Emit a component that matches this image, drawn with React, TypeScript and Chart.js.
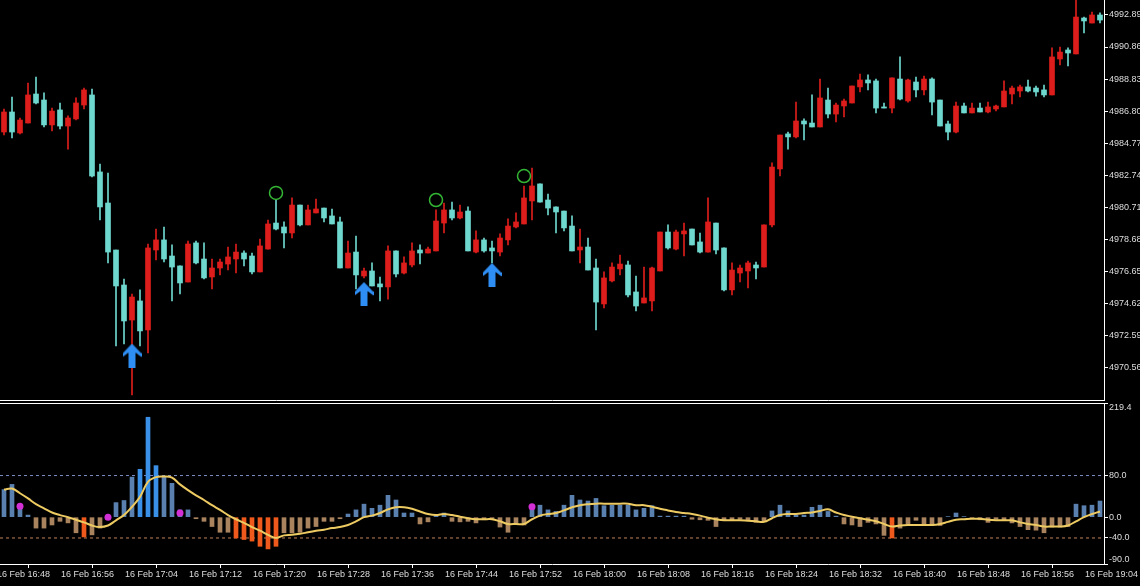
import React, { useEffect, useRef } from 'react';
import { Chart, registerables } from 'chart.js';

Chart.register(...registerables);

const FONT = "'Liberation Sans', Arial, sans-serif";
const TEXT = '#dedede';
const UP = '#dd1d1b';
const DOWN = '#6fd8ce';

// one bar per minute, bar n = 16:48 + n minutes
const openP = [
  4985.47, 4986.74, 4985.41, 4986.04, 4987.88, 4987.50, 4985.92, 4986.87, 4985.85, 4986.30,
  4987.18, 4987.82, 4982.94, 4980.97, 4977.99, 4975.77, 4973.55, 4974.76, 4972.92, 4977.99,
  4978.63, 4977.61, 4976.98, 4975.96, 4978.44, 4977.42, 4976.28, 4976.85, 4977.10, 4977.42,
  4977.80, 4977.61, 4976.60, 4978.05, 4979.70, 4979.45, 4979.07, 4980.84, 4979.58, 4980.34,
  4980.65, 4980.15, 4979.77, 4976.85, 4977.86, 4976.34, 4976.66, 4975.84, 4975.65, 4977.93,
  4976.53, 4977.04, 4977.99, 4977.80, 4977.93, 4979.70, 4980.53, 4980.02, 4980.46, 4977.86,
  4978.63, 4978.12, 4977.86, 4978.63, 4979.45, 4979.64, 4981.10, 4982.18, 4981.16, 4980.72,
  4980.46, 4979.51, 4977.99, 4978.18, 4976.85, 4974.57, 4976.03, 4976.79, 4977.04, 4975.33,
  4974.63, 4974.76, 4976.66, 4979.13, 4978.05, 4979.01, 4979.32, 4978.50, 4977.86, 4979.70,
  4978.12, 4975.46, 4976.53, 4976.66, 4977.04, 4976.91, 4979.58, 4983.13, 4985.35, 4985.16,
  4986.17, 4986.04, 4985.79, 4987.50, 4986.61, 4987.12, 4987.31, 4988.33, 4988.77, 4988.71,
  4987.06, 4986.99, 4988.83, 4987.44, 4988.64, 4988.14, 4988.83, 4987.50, 4985.98, 4985.47,
  4987.12, 4986.68, 4986.99, 4986.74, 4986.93, 4987.06, 4987.88, 4988.07, 4988.33, 4988.26,
  4988.14, 4987.82, 4990.10, 4990.67, 4990.42, 4992.70, 4992.38, 4992.89,
];
const highP = [
  4986.93, 4987.69, 4986.36, 4988.58, 4988.96, 4987.95, 4986.99, 4987.31, 4986.49, 4987.63,
  4988.26, 4988.20, 4983.44, 4982.87, 4977.99, 4976.15, 4975.20, 4975.46, 4978.37, 4979.32,
  4979.45, 4978.31, 4976.98, 4978.56, 4978.56, 4978.44, 4977.42, 4977.42, 4978.18, 4978.37,
  4977.93, 4977.80, 4978.69, 4979.89, 4981.16, 4979.77, 4981.29, 4980.84, 4980.84, 4981.22,
  4980.65, 4980.59, 4980.08, 4978.56, 4978.88, 4976.85, 4977.17, 4976.28, 4978.25, 4977.93,
  4977.55, 4978.44, 4978.31, 4978.18, 4980.53, 4980.97, 4981.03, 4980.84, 4980.72, 4979.20,
  4978.75, 4978.56, 4979.01, 4979.96, 4980.34, 4982.05, 4983.19, 4982.18, 4981.54, 4980.72,
  4980.46, 4980.15, 4979.32, 4978.75, 4977.42, 4976.60, 4977.17, 4977.67, 4977.29, 4976.34,
  4976.91, 4976.91, 4979.13, 4979.58, 4979.26, 4979.70, 4979.32, 4979.07, 4981.29, 4979.70,
  4978.12, 4977.17, 4977.04, 4977.29, 4977.23, 4979.58, 4983.51, 4985.28, 4985.47, 4987.37,
  4986.30, 4987.82, 4988.83, 4988.26, 4987.31, 4987.56, 4988.39, 4989.15, 4989.09, 4988.83,
  4987.31, 4988.90, 4990.23, 4988.83, 4988.96, 4989.02, 4988.90, 4987.50, 4986.17, 4987.37,
  4987.31, 4987.31, 4987.31, 4987.37, 4987.18, 4988.71, 4988.39, 4988.45, 4988.77, 4988.39,
  4988.45, 4990.80, 4990.86, 4990.80, 4993.84, 4992.76, 4993.08, 4993.02,
];
const lowP = [
  4985.28, 4985.09, 4985.35, 4986.04, 4987.25, 4985.79, 4985.54, 4985.66, 4984.39, 4986.23,
  4986.93, 4982.62, 4979.89, 4977.17, 4971.91, 4972.03, 4968.80, 4971.91, 4971.46, 4977.36,
  4977.23, 4974.76, 4975.20, 4975.96, 4977.10, 4976.15, 4975.52, 4976.41, 4976.72, 4976.53,
  4976.98, 4976.47, 4976.60, 4978.05, 4979.26, 4978.12, 4978.75, 4979.51, 4979.58, 4980.34,
  4979.77, 4979.64, 4976.85, 4976.85, 4975.52, 4976.22, 4975.71, 4974.76, 4974.88, 4976.28,
  4976.47, 4976.91, 4977.10, 4977.80, 4977.93, 4979.07, 4979.89, 4979.96, 4977.93, 4977.80,
  4977.86, 4977.17, 4977.61, 4978.31, 4979.39, 4979.64, 4979.89, 4981.03, 4980.21, 4979.07,
  4979.20, 4977.93, 4977.17, 4976.72, 4972.92, 4974.31, 4975.96, 4976.41, 4975.01, 4974.12,
  4974.63, 4974.12, 4976.66, 4978.05, 4977.99, 4977.61, 4978.31, 4977.80, 4977.86, 4977.74,
  4975.39, 4975.14, 4975.96, 4975.58, 4976.15, 4976.91, 4979.45, 4982.68, 4984.39, 4985.09,
  4984.97, 4985.79, 4985.79, 4986.36, 4986.11, 4986.42, 4987.31, 4988.01, 4988.14, 4986.68,
  4986.99, 4986.68, 4987.50, 4987.37, 4987.69, 4987.82, 4986.55, 4985.85, 4984.97, 4985.41,
  4986.68, 4986.68, 4986.74, 4986.68, 4986.80, 4987.06, 4987.25, 4987.69, 4988.01, 4987.75,
  4987.69, 4987.82, 4989.72, 4989.66, 4990.42, 4991.75, 4992.38, 4992.38,
];
const closeP = [
  4986.74, 4985.47, 4986.23, 4987.82, 4987.31, 4985.92, 4986.80, 4985.85, 4986.36, 4987.31,
  4988.14, 4982.68, 4980.72, 4977.86, 4975.71, 4973.49, 4975.01, 4972.86, 4978.12, 4978.63,
  4977.42, 4976.91, 4975.90, 4978.37, 4977.17, 4976.22, 4976.85, 4977.23, 4977.55, 4977.86,
  4977.42, 4976.60, 4978.25, 4979.64, 4979.32, 4979.07, 4980.84, 4979.58, 4980.53, 4980.59,
  4980.02, 4979.64, 4976.85, 4977.80, 4976.41, 4976.66, 4975.71, 4975.65, 4977.93, 4976.47,
  4977.17, 4977.93, 4977.80, 4978.05, 4979.83, 4980.53, 4980.02, 4980.40, 4977.93, 4978.63,
  4977.93, 4977.93, 4978.75, 4979.51, 4979.77, 4981.29, 4982.05, 4981.03, 4980.65, 4980.40,
  4979.39, 4977.93, 4978.18, 4976.72, 4974.69, 4976.22, 4976.91, 4977.10, 4975.14, 4974.44,
  4974.95, 4976.85, 4979.13, 4978.12, 4979.13, 4979.20, 4978.31, 4977.86, 4979.77, 4977.99,
  4975.46, 4976.72, 4976.85, 4977.17, 4976.85, 4979.58, 4983.25, 4985.28, 4985.16, 4986.17,
  4985.98, 4985.79, 4987.63, 4986.61, 4987.18, 4987.44, 4988.39, 4988.77, 4988.58, 4986.99,
  4986.99, 4988.90, 4987.56, 4988.77, 4988.14, 4988.83, 4987.37, 4985.85, 4985.47, 4987.12,
  4986.68, 4986.99, 4986.74, 4987.06, 4987.12, 4988.07, 4988.26, 4988.33, 4988.07, 4988.01,
  4987.82, 4990.23, 4990.54, 4990.48, 4992.76, 4992.51, 4992.89, 4992.57,
];

// oscillator histogram and its signal line
const histVals = [
  53, 63, 21, 4, -21, -21, -15, -8, -11, -30,
  -38, -34, -21, -1, 28, 32, 77, 92, 192, 99,
  77, 65, 14, 14, -3, -8, -18, -29, -29, -40,
  -43, -46, -56, -61, -56, -30, -30, -29, -21, -18,
  -8, -8, -3, 6, 14, 25, 17, 23, 42, 33,
  8, 8, -13, -9, 4, 8, -8, -9, -8, -11,
  -5, -4, -19, -29, -13, -15, 17, 23, 14, 11,
  23, 42, 33, 31, 36, 22, 23, 23, 23, 14,
  17, 22, 2, 2, 2, 2, -4, -5, -6, -18,
  -6, -5, -4, -6, -10, -8, 12, 23, 12, 4,
  4, 19, 23, 11, 2, -13, -15, -18, -10, -13,
  -35, -40, -21, -13, -6, -13, -16, -16, 1, 8,
  1, -1, -5, -10, -4, -6, -11, -18, -24, -25,
  -30, -19, -19, -18, 25, 22, 23, 31,
];
const signalVals = [
  53, 55, 46, 36, 25, 17, 9, 4, 0, -5,
  -10, -16, -19, -16, -6, 4, 20, 39, 68, 77,
  78, 76, 63, 52, 42, 33, 23, 14, 4, -4,
  -11, -19, -26, -34, -40, -35, -34, -32, -29, -26,
  -24, -21, -19, -15, -8, 0, 3, 8, 15, 19,
  19, 16, 11, 6, 4, 6, 4, 1, -2, -4,
  -4, -4, -8, -13, -13, -13, -4, 3, 6, 8,
  13, 19, 23, 25, 26, 26, 26, 26, 26, 23,
  23, 20, 16, 13, 10, 8, 6, 3, -1, -4,
  -6, -6, -6, -7, -8, -9, -2, 4, 6, 6,
  8, 9, 12, 15, 9, 4, 1, -2, -5, -8,
  -13, -18, -16, -15, -15, -15, -15, -13, -9, -5,
  -4, -3, -3, -5, -6, -6, -6, -10, -13, -15,
  -18, -18, -18, -16, -8, 0, 6, 11,
];
const strongBars = [11, 18, 19, 20, 30, 31, 32, 33, 34, 35, 112];

// signal markers
const arrowMinutes = [17, 46, 62];
const arrowPrices = [4971.3, 4975.2, 4976.41];
const circleMinutes = [35, 55, 66];
const circlePrices = [4981.61, 4981.16, 4982.68];
const dotMinutes = [3, 14, 23, 67];
const dotValues = [21, 0, 8, 20];

// levels and axes
const levels = [80, -40];
const priceTicks = [4970.56, 4972.59, 4974.62, 4976.65, 4978.68, 4980.71, 4982.74, 4984.77, 4986.8, 4988.83, 4990.86, 4992.89];
const priceMin = 4968.48;
const priceMax = 4993.84;
const indTicks = [-90, -40, 0, 80, 219.4];
const tickMinutes = [0, 8, 16, 24, 32, 40, 48, 56, 64, 72, 80, 88, 96, 104, 112, 120, 128, 136];
const timeLabels = [
  '16 Feb 16:48', '16 Feb 16:56', '16 Feb 17:04', '16 Feb 17:12', '16 Feb 17:20', '16 Feb 17:28',
  '16 Feb 17:36', '16 Feb 17:44', '16 Feb 17:52', '16 Feb 18:00', '16 Feb 18:08', '16 Feb 18:16',
  '16 Feb 18:24', '16 Feb 18:32', '16 Feb 18:40', '16 Feb 18:48', '16 Feb 18:56', '16 Feb 19:04',
];

function makeArrow(): HTMLCanvasElement {
  const c = document.createElement('canvas');
  c.width = 19;
  c.height = 24;
  const g = c.getContext('2d')!;
  g.fillStyle = '#2f8ef3';
  g.beginPath();
  g.moveTo(9.5, 0);
  g.lineTo(19, 10);
  g.lineTo(19, 13.5);
  g.lineTo(13, 9);
  g.lineTo(13, 24);
  g.lineTo(6, 24);
  g.lineTo(6, 9);
  g.lineTo(0, 13.5);
  g.lineTo(0, 10);
  g.closePath();
  g.fill();
  return c;
}

const font = { family: FONT, size: 9 };

function noPad(s: any) {
  s.paddingTop = 0;
  s.paddingBottom = 0;
  s.paddingLeft = 0;
  s.paddingRight = 0;
}

export default function App() {
  const mainRef = useRef<HTMLCanvasElement>(null);
  const indRef = useRef<HTMLCanvasElement>(null);

  useEffect(() => {
    document.body.style.margin = '0';
    document.body.style.background = '#000';
    const arrow = makeArrow();
    const candleColors = openP.map((o, i) => (closeP[i] > o ? UP : DOWN));
    const xMin = 0.5;
    const xMax = 138.5;

    const main = new Chart(mainRef.current!, {
      type: 'bar',
      data: {
        datasets: [
          {
            type: 'scatter',
            data: arrowMinutes.map((m, i) => ({ x: m, y: arrowPrices[i] })),
            pointStyle: arrow as any,
            pointRadius: 10,
            order: 0,
          } as any,
          {
            type: 'scatter',
            data: circleMinutes.map((m, i) => ({ x: m, y: circlePrices[i] })),
            pointStyle: 'circle',
            pointRadius: 6.5,
            borderColor: '#34b534',
            borderWidth: 1.5,
            backgroundColor: 'rgba(0,0,0,0)',
            order: 0,
          } as any,
          {
            type: 'bar',
            data: openP.map((o, i) => ({ x: i + 1, y: [o, closeP[i]] })),
            backgroundColor: candleColors,
            borderWidth: 0,
            grouped: false,
            categoryPercentage: 1,
            barPercentage: 1,
            maxBarThickness: 5,
            minBarLength: 1,
            order: 1,
          } as any,
          {
            type: 'bar',
            data: lowP.map((l, i) => ({ x: i + 1, y: [l, highP[i]] })),
            backgroundColor: candleColors,
            borderWidth: 0,
            grouped: false,
            categoryPercentage: 1,
            barPercentage: 1,
            maxBarThickness: 1,
            order: 2,
          } as any,
        ],
      },
      options: {
        responsive: false,
        maintainAspectRatio: false,
        animation: false,
        devicePixelRatio: 1,
        events: [],
        layout: { autoPadding: false, padding: 0 } as any,
        plugins: { legend: { display: false }, tooltip: { enabled: false } },
        scales: {
          x: {
            type: 'linear',
            min: xMin,
            max: xMax,
            offset: false,
            ticks: { display: false },
            grid: { display: false, drawTicks: false },
            border: { display: true, color: '#ffffff', width: 1 },
            afterFit: (s: any) => { s.height = 1; noPad(s); },
          },
          y: {
            type: 'linear',
            position: 'right',
            min: priceMin,
            max: priceMax,
            afterBuildTicks: (s: any) => { s.ticks = priceTicks.map((v) => ({ value: v })); },
            afterFit: (s: any) => { s.width = 36; noPad(s); },
            grid: { drawOnChartArea: false, drawTicks: true, tickLength: 4, tickColor: '#ffffff' },
            border: { display: true, color: '#ffffff', width: 1 },
            ticks: { color: TEXT, font, padding: 1, callback: (v: any) => Number(v).toFixed(2) },
          },
        } as any,
      },
    });

    const edgePlugin = {
      id: 'edges',
      afterDraw(chart: any) {
        const { ctx, chartArea } = chart;
        const s = chart.scales.y;
        ctx.save();
        ctx.strokeStyle = '#ffffff';
        ctx.lineWidth = 1;
        ctx.beginPath();
        ctx.moveTo(0, Math.round(chartArea.top) + 0.5);
        ctx.lineTo(chartArea.right, Math.round(chartArea.top) + 0.5);
        ctx.stroke();
        ctx.font = `9px ${FONT}`;
        ctx.fillStyle = TEXT;
        ctx.textAlign = 'left';
        ctx.textBaseline = 'middle';
        const top = indTicks[indTicks.length - 1];
        const bottom = indTicks[0];
        ctx.fillText(top.toFixed(1), s.left + 5, s.getPixelForValue(top) + 5);
        ctx.fillText(bottom.toFixed(1), s.left + 5, s.getPixelForValue(bottom) - 4);
        ctx.restore();
      },
    };

    const histColors = histVals.map((v, i) => {
      const strong = strongBars.includes(i + 1);
      if (v >= 0) return strong ? '#3a8fe6' : '#5a80b0';
      return strong ? '#f0591c' : '#a9825e';
    });

    const ind = new Chart(indRef.current!, {
      type: 'bar',
      data: {
        datasets: [
          {
            type: 'scatter',
            data: dotMinutes.map((m, i) => ({ x: m, y: dotValues[i] })),
            pointRadius: 3.5,
            backgroundColor: '#d22fd4',
            borderWidth: 0,
            order: 0,
          } as any,
          {
            type: 'line',
            data: signalVals.map((v, i) => ({ x: i + 1, y: v })),
            borderColor: '#edcb62',
            borderWidth: 2,
            pointRadius: 0,
            tension: 0.4,
            order: 1,
          } as any,
          {
            type: 'bar',
            data: histVals.map((v, i) => ({ x: i + 1, y: v })),
            backgroundColor: histColors,
            borderWidth: 0,
            grouped: false,
            categoryPercentage: 1,
            barPercentage: 1,
            maxBarThickness: 4,
            order: 2,
          } as any,
          {
            type: 'line',
            data: [{ x: xMin, y: levels[0] }, { x: xMax, y: levels[0] }],
            borderColor: '#7d8cc4',
            borderWidth: 1,
            borderDash: [3, 3],
            pointRadius: 0,
            order: 3,
          } as any,
          {
            type: 'line',
            data: [{ x: xMin, y: levels[1] }, { x: xMax, y: levels[1] }],
            borderColor: '#c0825a',
            borderWidth: 1,
            borderDash: [3, 3],
            pointRadius: 0,
            order: 3,
          } as any,
        ],
      },
      options: {
        responsive: false,
        maintainAspectRatio: false,
        animation: false,
        devicePixelRatio: 1,
        events: [],
        layout: { autoPadding: false, padding: { top: 2, left: 0, right: 0, bottom: 0 } } as any,
        plugins: { legend: { display: false }, tooltip: { enabled: false } },
        scales: {
          x: {
            type: 'linear',
            min: xMin,
            max: xMax,
            offset: false,
            afterBuildTicks: (s: any) => { s.ticks = tickMinutes.map((v) => ({ value: v })); },
            afterFit: (s: any) => { s.height = 22; noPad(s); },
            grid: { drawOnChartArea: false, drawTicks: true, tickLength: 4, tickColor: '#ffffff' },
            border: { display: true, color: '#ffffff', width: 1 },
            ticks: {
              autoSkip: false,
              maxRotation: 0,
              minRotation: 0,
              align: 'start',
              labelOffset: 1,
              padding: 1,
              color: TEXT,
              font,
              callback: (_v: any, i: number) => timeLabels[i],
            },
          },
          y: {
            type: 'linear',
            position: 'right',
            min: indTicks[0],
            max: indTicks[indTicks.length - 1],
            afterBuildTicks: (s: any) => { s.ticks = indTicks.map((v) => ({ value: v })); },
            afterFit: (s: any) => { s.width = 36; noPad(s); },
            grid: { drawOnChartArea: false, drawTicks: true, tickLength: 4, tickColor: '#ffffff' },
            border: { display: true, color: '#ffffff', width: 1 },
            ticks: {
              color: TEXT,
              font,
              padding: 1,
              callback: (v: any) =>
                v === indTicks[0] || v === indTicks[indTicks.length - 1] ? '' : Number(v).toFixed(1),
            },
          },
        } as any,
      },
      plugins: [edgePlugin],
    });

    return () => {
      main.destroy();
      ind.destroy();
    };
  }, []);

  return (
    <div style={{ position: 'fixed', left: 0, top: 0, width: 1140, height: 586, background: '#000', overflow: 'hidden' }}>
      <canvas
        ref={mainRef}
        width={1140}
        height={401}
        style={{ position: 'absolute', left: 0, top: 0, width: 1140, height: 401 }}
      />
      <canvas
        ref={indRef}
        width={1140}
        height={185}
        style={{ position: 'absolute', left: 0, top: 401, width: 1140, height: 185 }}
      />
    </div>
  );
}
